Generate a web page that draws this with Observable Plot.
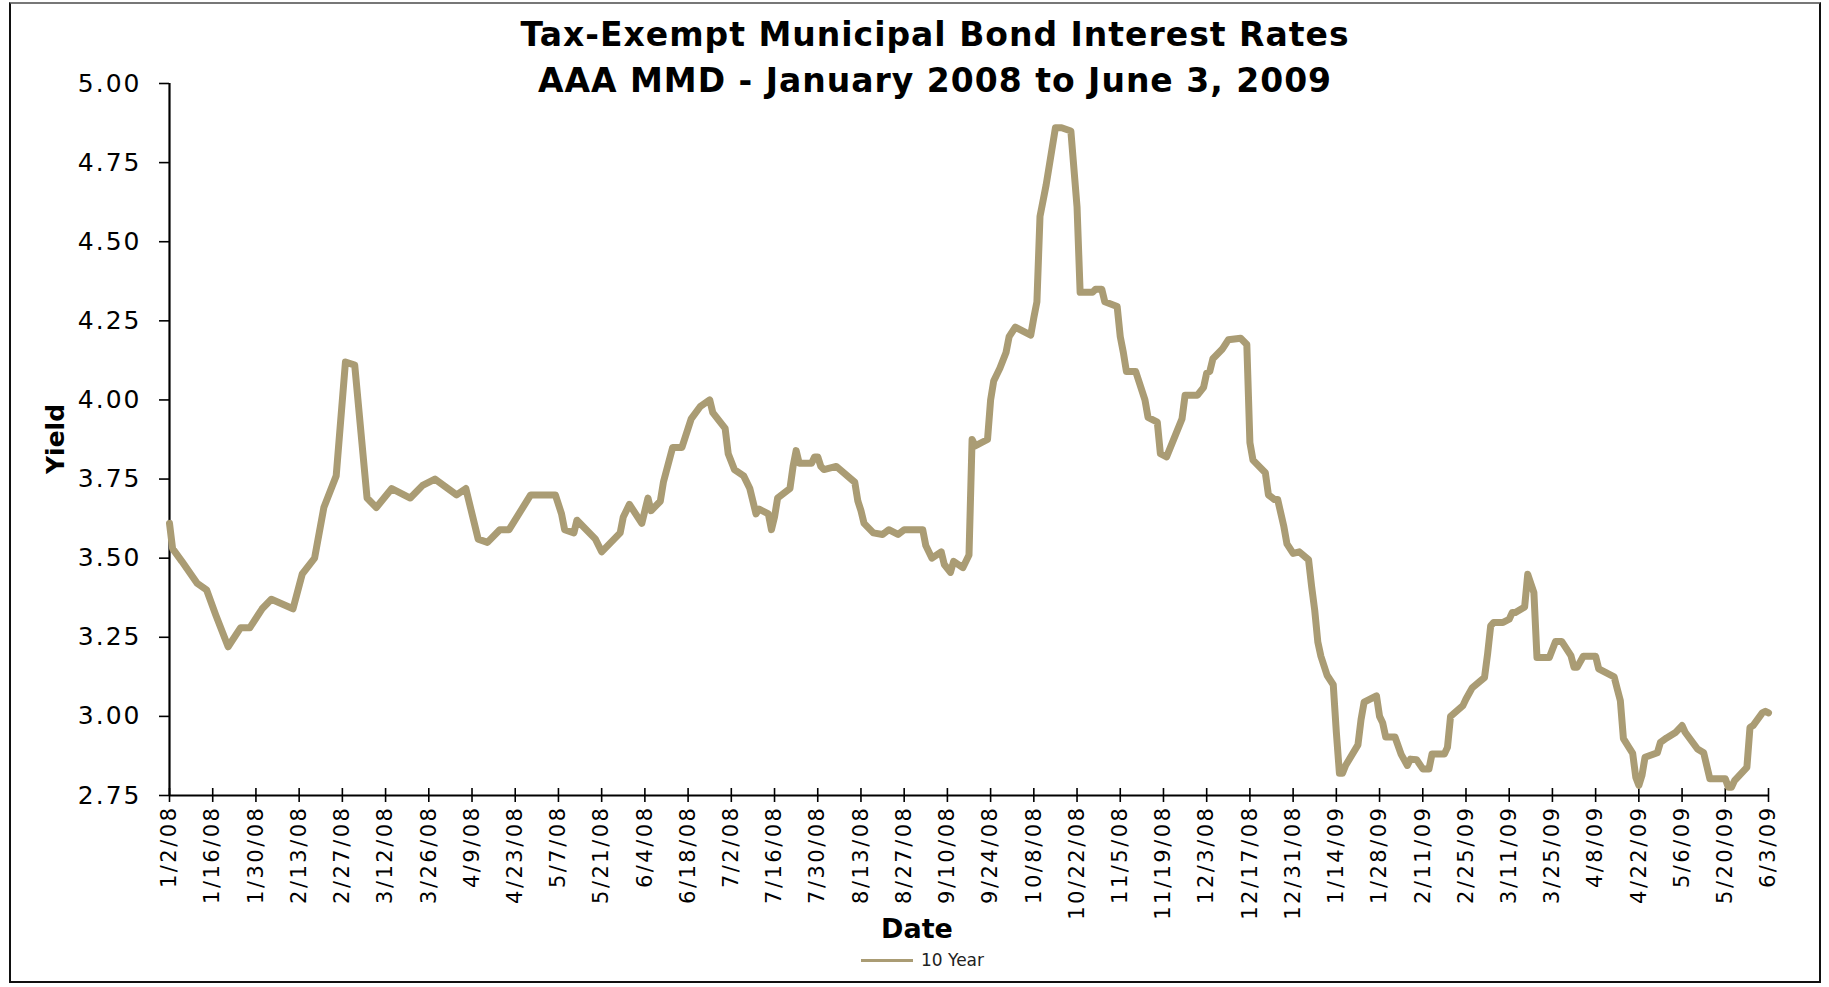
<!DOCTYPE html>
<html><head><meta charset="utf-8">
<script src="https://cdn.jsdelivr.net/npm/d3@7"></script>
<script src="https://cdn.jsdelivr.net/npm/@observablehq/plot@0.6"></script>
<style>
html,body{margin:0;padding:0;background:#fff;}
#page{position:relative;width:1829px;height:987px;overflow:hidden;font-family:"DejaVu Sans",Verdana,sans-serif;color:#000;}
#frame{position:absolute;left:9px;top:2px;width:1808px;height:977px;border:2px solid #111;border-top-color:#777;}
.title{position:absolute;left:0;width:1870px;text-align:center;font-weight:bold;font-size:33px;letter-spacing:1px;line-height:1;white-space:nowrap;}
#chart{position:absolute;left:0;top:0;}
#ylab{position:absolute;left:55px;top:439px;transform:translate(-50%,-50%) rotate(-90deg);font-weight:bold;font-size:25px;line-height:1;}
#xlab{position:absolute;left:917px;top:928px;transform:translate(-50%,-50%);font-weight:bold;font-size:27px;line-height:1;}
#legend{position:absolute;left:861px;top:960px;transform:translateY(-50%);display:flex;align-items:center;font-size:17px;color:#222;}
#legend .sw{width:52px;height:3px;background:#aa9c74;margin-right:8px;}
.chart g[aria-label="x-axis tick label"] text{letter-spacing:2.5px;}
.chart g[aria-label="y-axis tick label"] text{letter-spacing:2px;}
</style></head>
<body><div id="page">
<div id="frame"></div>
<div class="title" id="t1" style="top:18px">Tax-Exempt Municipal Bond Interest Rates</div>
<div class="title" id="t2" style="top:64px">AAA MMD - January 2008 to June 3, 2009</div>
<div id="chart"></div>
<div id="ylab">Yield</div>
<div id="xlab">Date</div>
<div id="legend"><div class="sw"></div><span>10 Year</span></div>
</div>
<script>
const dates = ["1/2/08","1/3/08","1/6/08","1/11/08","1/14/08","1/17/08","1/21/08","1/25/08","1/28/08","2/1/08","2/4/08","2/11/08","2/14/08","2/18/08","2/21/08","2/25/08","2/28/08","3/2/08","3/6/08","3/9/08","3/14/08","3/20/08","3/24/08","3/28/08","4/4/08","4/7/08","4/11/08","4/14/08","4/18/08","4/21/08","4/28/08","5/6/08","5/8/08","5/9/08","5/12/08","5/13/08","5/19/08","5/20/08","5/21/08","5/24/08","5/27/08","5/28/08","5/30/08","6/3/08","6/5/08","6/6/08","6/9/08","6/10/08","6/13/08","6/16/08","6/18/08","6/19/08","6/22/08","6/25/08","6/26/08","6/30/08","7/1/08","7/3/08","7/6/08","7/8/08","7/10/08","7/11/08","7/14/08","7/15/08","7/16/08","7/17/08","7/21/08","7/22/08","7/23/08","7/24/08","7/28/08","7/29/08","7/30/08","7/31/08","8/1/08","8/5/08","8/11/08","8/12/08","8/13/08","8/14/08","8/17/08","8/20/08","8/22/08","8/25/08","8/27/08","9/2/08","9/3/08","9/5/08","9/8/08","9/9/08","9/11/08","9/12/08","9/15/08","9/17/08","9/18/08","9/19/08","9/23/08","9/24/08","9/25/08","9/27/08","9/29/08","9/30/08","10/2/08","10/7/08","10/8/08","10/9/08","10/10/08","10/12/08","10/15/08","10/17/08","10/20/08","10/22/08","10/23/08","10/27/08","10/28/08","10/30/08","10/31/08","11/4/08","11/5/08","11/6/08","11/7/08","11/10/08","11/13/08","11/14/08","11/17/08","11/18/08","11/20/08","11/25/08","11/26/08","11/30/08","12/2/08","12/3/08","12/4/08","12/5/08","12/8/08","12/10/08","12/14/08","12/16/08","12/17/08","12/18/08","12/22/08","12/23/08","12/25/08","12/26/08","12/28/08","12/29/08","12/31/08","1/2/09","1/5/09","1/6/09","1/7/09","1/8/09","1/9/09","1/11/09","1/13/09","1/14/09","1/15/09","1/16/09","1/17/09","1/21/09","1/22/09","1/23/09","1/27/09","1/28/09","1/29/09","1/30/09","2/2/09","2/4/09","2/6/09","2/7/09","2/9/09","2/11/09","2/13/09","2/14/09","2/18/09","2/19/09","2/20/09","2/24/09","2/25/09","2/27/09","3/3/09","3/4/09","3/5/09","3/6/09","3/9/09","3/11/09","3/12/09","3/13/09","3/16/09","3/17/09","3/19/09","3/20/09","3/24/09","3/26/09","3/28/09","3/31/09","4/1/09","4/2/09","4/4/09","4/8/09","4/9/09","4/14/09","4/15/09","4/16/09","4/17/09","4/20/09","4/21/09","4/22/09","4/23/09","4/24/09","4/28/09","4/29/09","5/1/09","5/4/09","5/6/09","5/7/09","5/11/09","5/13/09","5/15/09","5/20/09","5/21/09","5/22/09","5/23/09","5/27/09","5/28/09","5/29/09","6/1/09","6/2/09","6/3/09"];
const yields = [3.61,3.53,3.49,3.42,3.40,3.32,3.22,3.28,3.28,3.34,3.37,3.34,3.45,3.50,3.66,3.76,4.12,4.11,3.69,3.66,3.72,3.69,3.73,3.75,3.70,3.72,3.56,3.55,3.59,3.59,3.70,3.70,3.64,3.59,3.58,3.62,3.56,3.54,3.52,3.55,3.58,3.63,3.67,3.61,3.69,3.65,3.68,3.74,3.85,3.85,3.91,3.94,3.98,4.00,3.96,3.91,3.83,3.78,3.76,3.72,3.64,3.655,3.64,3.59,3.63,3.69,3.72,3.79,3.84,3.80,3.80,3.82,3.82,3.79,3.78,3.79,3.74,3.68,3.65,3.61,3.58,3.575,3.59,3.575,3.59,3.59,3.54,3.50,3.52,3.48,3.455,3.49,3.47,3.51,3.875,3.855,3.875,4.00,4.06,4.10,4.15,4.20,4.23,4.205,4.26,4.31,4.58,4.68,4.86,4.86,4.85,4.61,4.34,4.34,4.35,4.35,4.31,4.295,4.20,4.15,4.09,4.09,4.00,3.945,3.93,3.83,3.82,3.94,4.015,4.015,4.04,4.085,4.09,4.13,4.16,4.19,4.195,4.175,3.865,3.81,3.77,3.70,3.685,3.685,3.60,3.545,3.515,3.52,3.495,3.41,3.335,3.235,3.19,3.13,3.10,2.95,2.82,2.82,2.845,2.91,2.99,3.045,3.065,3.00,2.98,2.935,2.935,2.88,2.845,2.865,2.863,2.834,2.834,2.881,2.881,2.902,3.00,3.034,3.055,3.09,3.123,3.197,3.286,3.297,3.297,3.307,3.328,3.328,3.346,3.449,3.391,3.186,3.186,3.237,3.237,3.192,3.155,3.155,3.19,3.19,3.15,3.125,3.087,3.05,2.93,2.883,2.808,2.782,2.813,2.871,2.885,2.918,2.932,2.95,2.971,2.95,2.897,2.885,2.803,2.803,2.776,2.776,2.797,2.839,2.965,2.971,3.011,3.016,3.011];
const tickLabels = ["1/2/08","1/16/08","1/30/08","2/13/08","2/27/08","3/12/08","3/26/08","4/9/08","4/23/08","5/7/08","5/21/08","6/4/08","6/18/08","7/2/08","7/16/08","7/30/08","8/13/08","8/27/08","9/10/08","9/24/08","10/8/08","10/22/08","11/5/08","11/19/08","12/3/08","12/17/08","12/31/08","1/14/09","1/28/09","2/11/09","2/25/09","3/11/09","3/25/09","4/8/09","4/22/09","5/6/09","5/20/09","6/3/09"];
const yTicks = [2.75, 3.00, 3.25, 3.50, 3.75, 4.00, 4.25, 4.50, 4.75, 5.00];

const parse = d3.utcParse("%m/%d/%y");
const data = dates.map((d, i) => ({date: parse(d), value: yields[i]}));
const tickDates = tickLabels.map(parse);
const labelByTime = new Map(tickDates.map((d, i) => [+d, tickLabels[i]]));
const lineColor = "#aa9c74";

const chart = Plot.plot({
  width: 1829, height: 935,
  marginLeft: 169, marginRight: 61, marginTop: 83, marginBottom: 140,
  className: "chart",
  style: {fontFamily: "'DejaVu Sans', Verdana, sans-serif", background: "transparent", overflow: "visible", color: "#000"},
  x: {type: "utc", domain: [tickDates[0], tickDates[tickDates.length - 1]]},
  y: {domain: [2.75, 5.00]},
  marks: [
    Plot.axisY({ticks: yTicks, tickFormat: d3.format(".2f"), tickSize: 10, tickPadding: 18, fontSize: 25, label: null, strokeWidth: 1.6}),
    Plot.axisX({ticks: tickDates, tickFormat: d => labelByTime.get(+d), tickSize: 7, tickPadding: 3, tickRotate: -90, fontSize: 21, label: null, strokeWidth: 1.6}),
    Plot.axisX({ticks: tickDates, tickFormat: () => "", tickSize: 7, dy: -7, label: null, strokeWidth: 1.6}),
    Plot.ruleY([2.75], {stroke: "#000", strokeWidth: 2.2}),
    Plot.ruleX([tickDates[0]], {stroke: "#000", strokeWidth: 2.2}),
    Plot.lineY(data, {x: "date", y: "value", stroke: lineColor, strokeWidth: 7, strokeLinejoin: "round"})
  ]
});
document.getElementById("chart").append(chart);
</script>
</body></html>
